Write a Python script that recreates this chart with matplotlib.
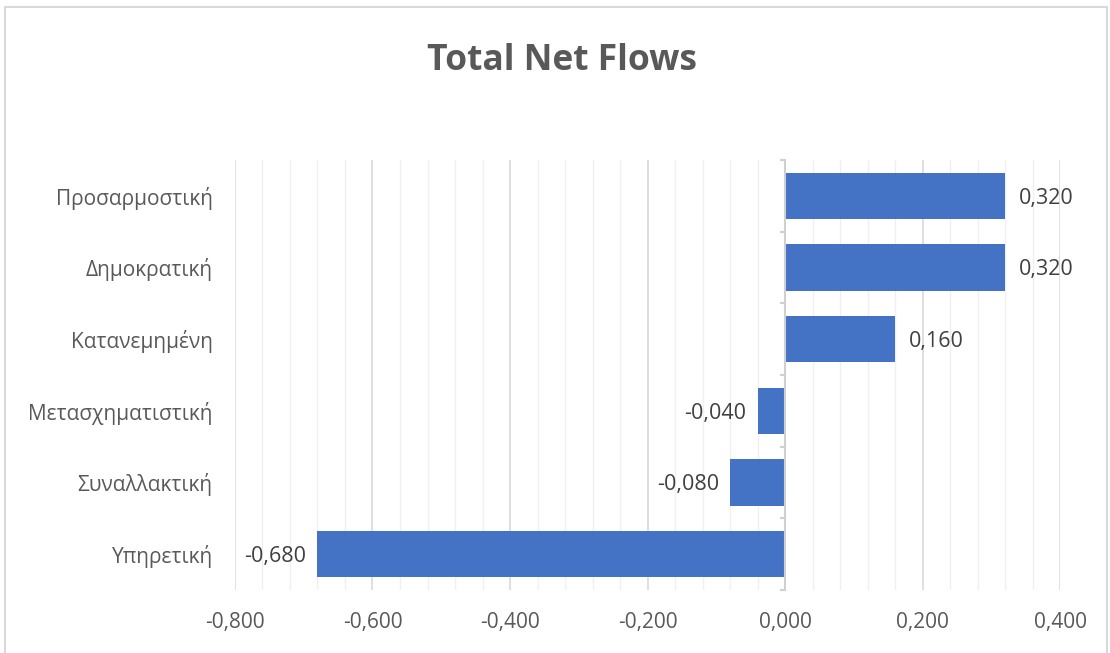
import matplotlib.pyplot as plt
from matplotlib.patches import Rectangle
from matplotlib.ticker import MultipleLocator, FuncFormatter
import numpy as np

# Δεδομένα (από κάτω προς τα πάνω)
categories = ['Υπηρετική', 'Συναλλακτική', 'Μετασχηματιστική',
              'Κατανεμημένη', 'Δημοκρατική', 'Προσαρμοστική']
values = [-0.680, -0.080, -0.040, 0.160, 0.320, 0.320]

plt.rcParams['font.family'] = ['Open Sans', 'DejaVu Sans']

fig = plt.figure(figsize=(11.1, 6.53), dpi=100)
ax = fig.add_axes([0.2117, 0.0965, 0.7433, 0.6585])

# Περίγραμμα γραφήματος
fig.patches.append(Rectangle((0.0045, -0.01), 0.993, 0.999, transform=fig.transFigure,
                             fill=False, edgecolor='#d9d9d9', linewidth=1.5))

y = np.arange(len(categories))
ax.barh(y, values, height=0.65, color='#4472C4', zorder=3)

ax.set_xlim(-0.8, 0.4)
ax.set_ylim(-0.5, len(categories) - 0.5)

ax.xaxis.set_major_locator(MultipleLocator(0.2))
ax.xaxis.set_minor_locator(MultipleLocator(0.04))
ax.grid(which='major', axis='x', color='#d9d9d9', linewidth=1.2, zorder=0)
ax.grid(which='minor', axis='x', color='#f0f0f0', linewidth=1.0, zorder=0)
ax.xaxis.set_major_formatter(FuncFormatter(lambda v, p: f'{v:.3f}'.replace('.', ',')))

ax.set_yticks(y)
ax.set_yticklabels(categories)
ax.tick_params(axis='both', which='both', length=0, colors='#595959', labelsize=15)
ax.tick_params(axis='x', pad=16)
ax.tick_params(axis='y', pad=16)

for s in ax.spines.values():
    s.set_visible(False)

# Άξονας κατηγοριών στο μηδέν με μικρές υποδιαιρέσεις
ax.axvline(0, color='#d0d0d0', linewidth=1.5, zorder=4)
for b in np.arange(-0.5, len(categories), 1.0):
    ax.plot([-0.006, 0], [b, b], color='#d0d0d0', linewidth=1.5, zorder=4, clip_on=False)

# Ετικέτες τιμών
for yi, v in zip(y, values):
    txt = f'{v:.3f}'.replace('.', ',')
    if v >= 0:
        ax.text(v + 0.02, yi, txt, va='center_baseline', ha='left', fontsize=15.5, color='#404040', zorder=5)
    else:
        ax.text(v - 0.016, yi, txt, va='center_baseline', ha='right', fontsize=15.5, color='#404040', zorder=5)

fig.text(0.506, 0.906, 'Total Net Flows', ha='center', va='center',
         fontsize=25.5, fontweight='bold', color='#595959')

fig.savefig('out.png', dpi=100, facecolor='white')
